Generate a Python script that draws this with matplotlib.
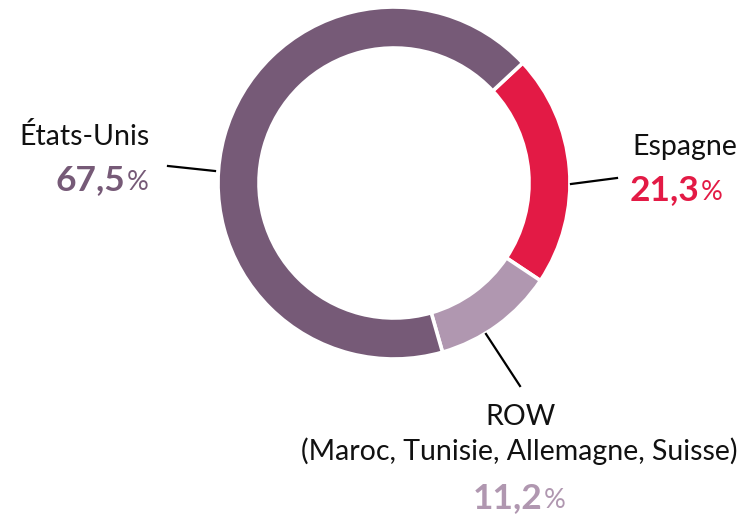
import matplotlib
matplotlib.use("Agg")
import matplotlib.pyplot as plt

# data
labels = ["Espagne", "ROW\n(Maroc, Tunisie, Allemagne, Suisse)", "États-Unis"]
shares = [21.3, 11.2, 67.5]
share_txt = ["21,3", "11,2", "67,5"]
colors = ["#e31a45", "#b097b0", "#765a77"]

W, H = 756, 519
fig = plt.figure(figsize=(W / 100, H / 100), dpi=100)
ax = fig.add_axes([0, 0, 1, 1])

def Y(py):
    # pixel row (from top) -> data y
    return H - py

cx, cy, r = 394, Y(183), 176
ax.pie(shares, colors=colors, startangle=43, counterclock=False,
       center=(cx, cy), radius=r,
       wedgeprops=dict(width=41, edgecolor="white", linewidth=2.6))
ax.set_xlim(0, W)
ax.set_ylim(0, H)
ax.set_aspect("equal")
ax.axis("off")

font = "Lato"
lab_kw = dict(family=font, fontsize=20.5, color="#111111", va="baseline")
num_kw = dict(family=font, fontsize=25.5, fontweight="bold", va="baseline")
pc_kw = dict(family=font, fontsize=19.5, va="baseline")

def pct(x, y, txt, color):
    # bold number ending at x, followed by a smaller "%"
    ax.text(x, y, txt, ha="right", color=color, **num_kw)
    ax.text(x + 2, y, "%", ha="left", color=color, **pc_kw)

# États-Unis
ax.text(150, Y(145), "États-Unis", ha="right", **lab_kw)
pct(125, Y(190), share_txt[2], colors[2])
ax.plot([168, 215], [Y(166), Y(171)], color="black", lw=1.6)

# Espagne
ax.text(632, Y(155), "Espagne", ha="left", **lab_kw)
pct(699, Y(200), share_txt[0], colors[0])
ax.plot([571, 617], [Y(184), Y(178)], color="black", lw=1.6)

# ROW
row_title, row_sub = labels[1].split("\n")
ax.text(520, Y(425), row_title, ha="center", **lab_kw)
ax.text(519, Y(460), row_sub, ha="center", **lab_kw)
pct(542, Y(508), share_txt[1], colors[1])
ax.plot([486, 520], [Y(334), Y(386)], color="black", lw=1.6)

fig.savefig("out.png", dpi=100)
